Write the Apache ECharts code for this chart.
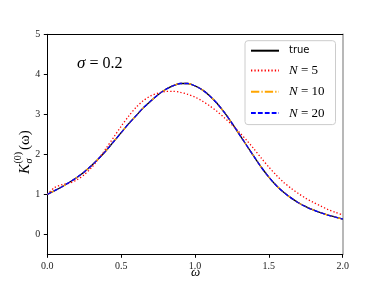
<!DOCTYPE html>
<html>
<head>
<meta charset="utf-8">
<script src="https://cdn.jsdelivr.net/npm/echarts@6/dist/echarts.min.js"></script>
<style>html,body{margin:0;padding:0;background:#fff}#c{width:381px;height:286px}</style>
</head>
<body>
<div id="c"></div>
<script>
// omega grid for the exact curve and N=10, N=20
const omega = [0.00,0.05,0.10,0.15,0.20,0.25,0.30,0.35,0.40,0.45,0.50,0.55,0.60,0.65,0.70,0.75,0.80,0.85,0.90,0.95,1.00,
               1.05,1.10,1.15,1.20,1.25,1.30,1.35,1.40,1.45,1.50,1.55,1.60,1.65,1.70,1.75,1.80,1.85,1.90,1.95,2.00];
const trueVals = [1.00,1.09,1.19,1.30,1.42,1.56,1.72,1.90,2.10,2.32,2.54,2.76,2.96,3.16,3.33,3.49,3.62,3.71,3.77,3.77,3.71,
                  3.61,3.46,3.27,3.04,2.78,2.50,2.22,1.94,1.67,1.43,1.22,1.05,0.91,0.79,0.69,0.61,0.54,0.48,0.43,0.38];
const n10Vals  = [1.00,1.09,1.19,1.30,1.42,1.56,1.72,1.90,2.10,2.32,2.54,2.76,2.96,3.16,3.33,3.49,3.62,3.71,3.77,3.77,3.71,
                  3.61,3.46,3.27,3.04,2.78,2.50,2.22,1.94,1.67,1.43,1.22,1.05,0.91,0.79,0.69,0.61,0.54,0.48,0.43,0.38];
const n20Vals  = [1.00,1.09,1.19,1.30,1.42,1.56,1.72,1.90,2.10,2.32,2.54,2.76,2.96,3.16,3.33,3.49,3.62,3.71,3.77,3.77,3.71,
                  3.61,3.46,3.27,3.04,2.78,2.50,2.22,1.94,1.67,1.43,1.22,1.05,0.91,0.79,0.69,0.61,0.54,0.48,0.43,0.38];
const n5Vals   = [1.00,1.17,1.24,1.28,1.36,1.49,1.67,1.90,2.16,2.43,2.70,2.95,3.17,3.34,3.46,3.53,3.57,3.575,3.55,3.50,3.43,
                  3.33,3.21,3.07,2.91,2.74,2.55,2.35,2.13,1.90,1.68,1.48,1.30,1.15,1.02,0.90,0.80,0.71,0.62,0.55,0.48];
const xTicks = [0.0,0.5,1.0,1.5,2.0];
const yTicks = [0,1,2,3,4,5];
const seriesNames = ['true','N5','N10','N20'];
const legendLabels = {true:'{s|true}', N5:'{i|N}{n| = 5}', N10:'{i|N}{n| = 10}', N20:'{i|N}{n| = 20}'};

const zip = (xs, ys) => xs.map((x, i) => [x, ys[i]]);
const lw = 1.3;
const chart = echarts.init(document.getElementById('c'), null, {renderer:'canvas'});
const serif = 'Liberation Serif';
chart.setOption({
  animation:false,
  grid:{left:47.3, right:38.3, top:34.3, bottom:31.7, containLabel:false},
  xAxis:[{
    type:'value', min:0, max:2, interval:0.5,
    axisLine:{show:true, onZero:false, lineStyle:{color:'#000', width:1}},
    axisTick:{show:true, inside:false, length:3.5, lineStyle:{color:'#000', width:1}},
    axisLabel:{show:true, margin:7, fontFamily:serif, fontSize:10, color:'#222', formatter:v=>v.toFixed(1), customValues:xTicks},
    splitLine:{show:false}
  },{
    type:'value', min:0, max:2, position:'top',
    axisLine:{show:true, onZero:false, lineStyle:{color:'#000', width:1}},
    axisTick:{show:false}, axisLabel:{show:false}, splitLine:{show:false}
  }],
  yAxis:[{
    type:'value', min:-0.5, max:5,
    axisLine:{show:true, onZero:false, lineStyle:{color:'#000', width:1}},
    axisTick:{show:true, inside:false, length:3.5, lineStyle:{color:'#000', width:1}, customValues:yTicks},
    axisLabel:{show:true, margin:7, fontFamily:serif, fontSize:10, color:'#222', customValues:yTicks},
    splitLine:{show:false}
  },{
    type:'value', min:-0.5, max:5, position:'right',
    axisLine:{show:true, onZero:false, lineStyle:{color:'#a0a0a0', width:1.5}},
    axisTick:{show:false}, axisLabel:{show:false}, splitLine:{show:false}
  }],
  legend:{
    data:seriesNames, orient:'vertical', left:245, top:40.7,
    padding:[5,11,5,5], itemWidth:28, itemHeight:10, itemGap:8.3,
    backgroundColor:'rgba(255,255,255,0.8)', borderColor:'#cccccc', borderWidth:1, borderRadius:3,
    itemStyle:{opacity:0, borderWidth:0},
    formatter:name=>legendLabels[name],
    textStyle:{padding:[0,0,0,5], color:'#000',
      rich:{
        s:{fontFamily:'DejaVu Sans', fontSize:10, color:'#000'},
        i:{fontFamily:serif, fontStyle:'italic', fontSize:13, color:'#000'},
        n:{fontFamily:serif, fontSize:13, color:'#000'}
      }}
  },
  title:{
    text:'{i|σ}{n| = 0.2}', left:72, top:50,
    textStyle:{fontWeight:'normal', rich:{
      i:{fontFamily:serif, fontStyle:'italic', fontWeight:'normal', fontSize:17, color:'#000'},
      n:{fontFamily:serif, fontWeight:'normal', fontSize:16, color:'#000'}
    }}
  },
  graphic:[
    {type:'text', left:191, top:266, style:{text:'ω', font:'italic 13px "Liberation Serif"', fill:'#000'}},
    {type:'group', x:25, y:174, rotation:Math.PI/2, children:[
      {type:'text', x:0, y:0, style:{text:'K', font:'italic 15px "Liberation Serif"', fill:'#000', textAlign:'left', textVerticalAlign:'middle'}},
      {type:'text', x:10.5, y:-6.5, style:{text:'(0)', font:'10px "Liberation Serif"', fill:'#000', textAlign:'left', textVerticalAlign:'middle'}},
      {type:'text', x:10.5, y:4.5, style:{text:'σ', font:'italic 10px "Liberation Serif"', fill:'#000', textAlign:'left', textVerticalAlign:'middle'}},
      {type:'text', x:24, y:0, style:{text:'(ω)', font:'15px "Liberation Serif"', fill:'#000', textAlign:'left', textVerticalAlign:'middle'}}
    ]}
  ],
  series:[
    {name:'true', type:'line', data:zip(omega,trueVals), smooth:0.3, symbol:'none', z:2,
      lineStyle:{color:'#000', width:lw, type:'solid'}, itemStyle:{color:'#000'}},
    {name:'N5', type:'line', data:zip(omega,n5Vals), smooth:0.3, symbol:'none', z:3,
      lineStyle:{color:'#ff0000', width:lw, type:[1.3,2.1]}, itemStyle:{color:'#ff0000'}},
    {name:'N10', type:'line', data:zip(omega,n10Vals), smooth:0.3, symbol:'none', z:4,
      lineStyle:{color:'#ffa500', width:lw, type:[8.3,2.1,1.3,2.1]}, itemStyle:{color:'#ffa500'}},
    {name:'N20', type:'line', data:zip(omega,n20Vals), smooth:0.3, symbol:'none', z:5,
      lineStyle:{color:'#0000ff', width:lw, type:[4.8,2.1]}, itemStyle:{color:'#0000ff'}}
  ]
});
</script>
</body>
</html>
